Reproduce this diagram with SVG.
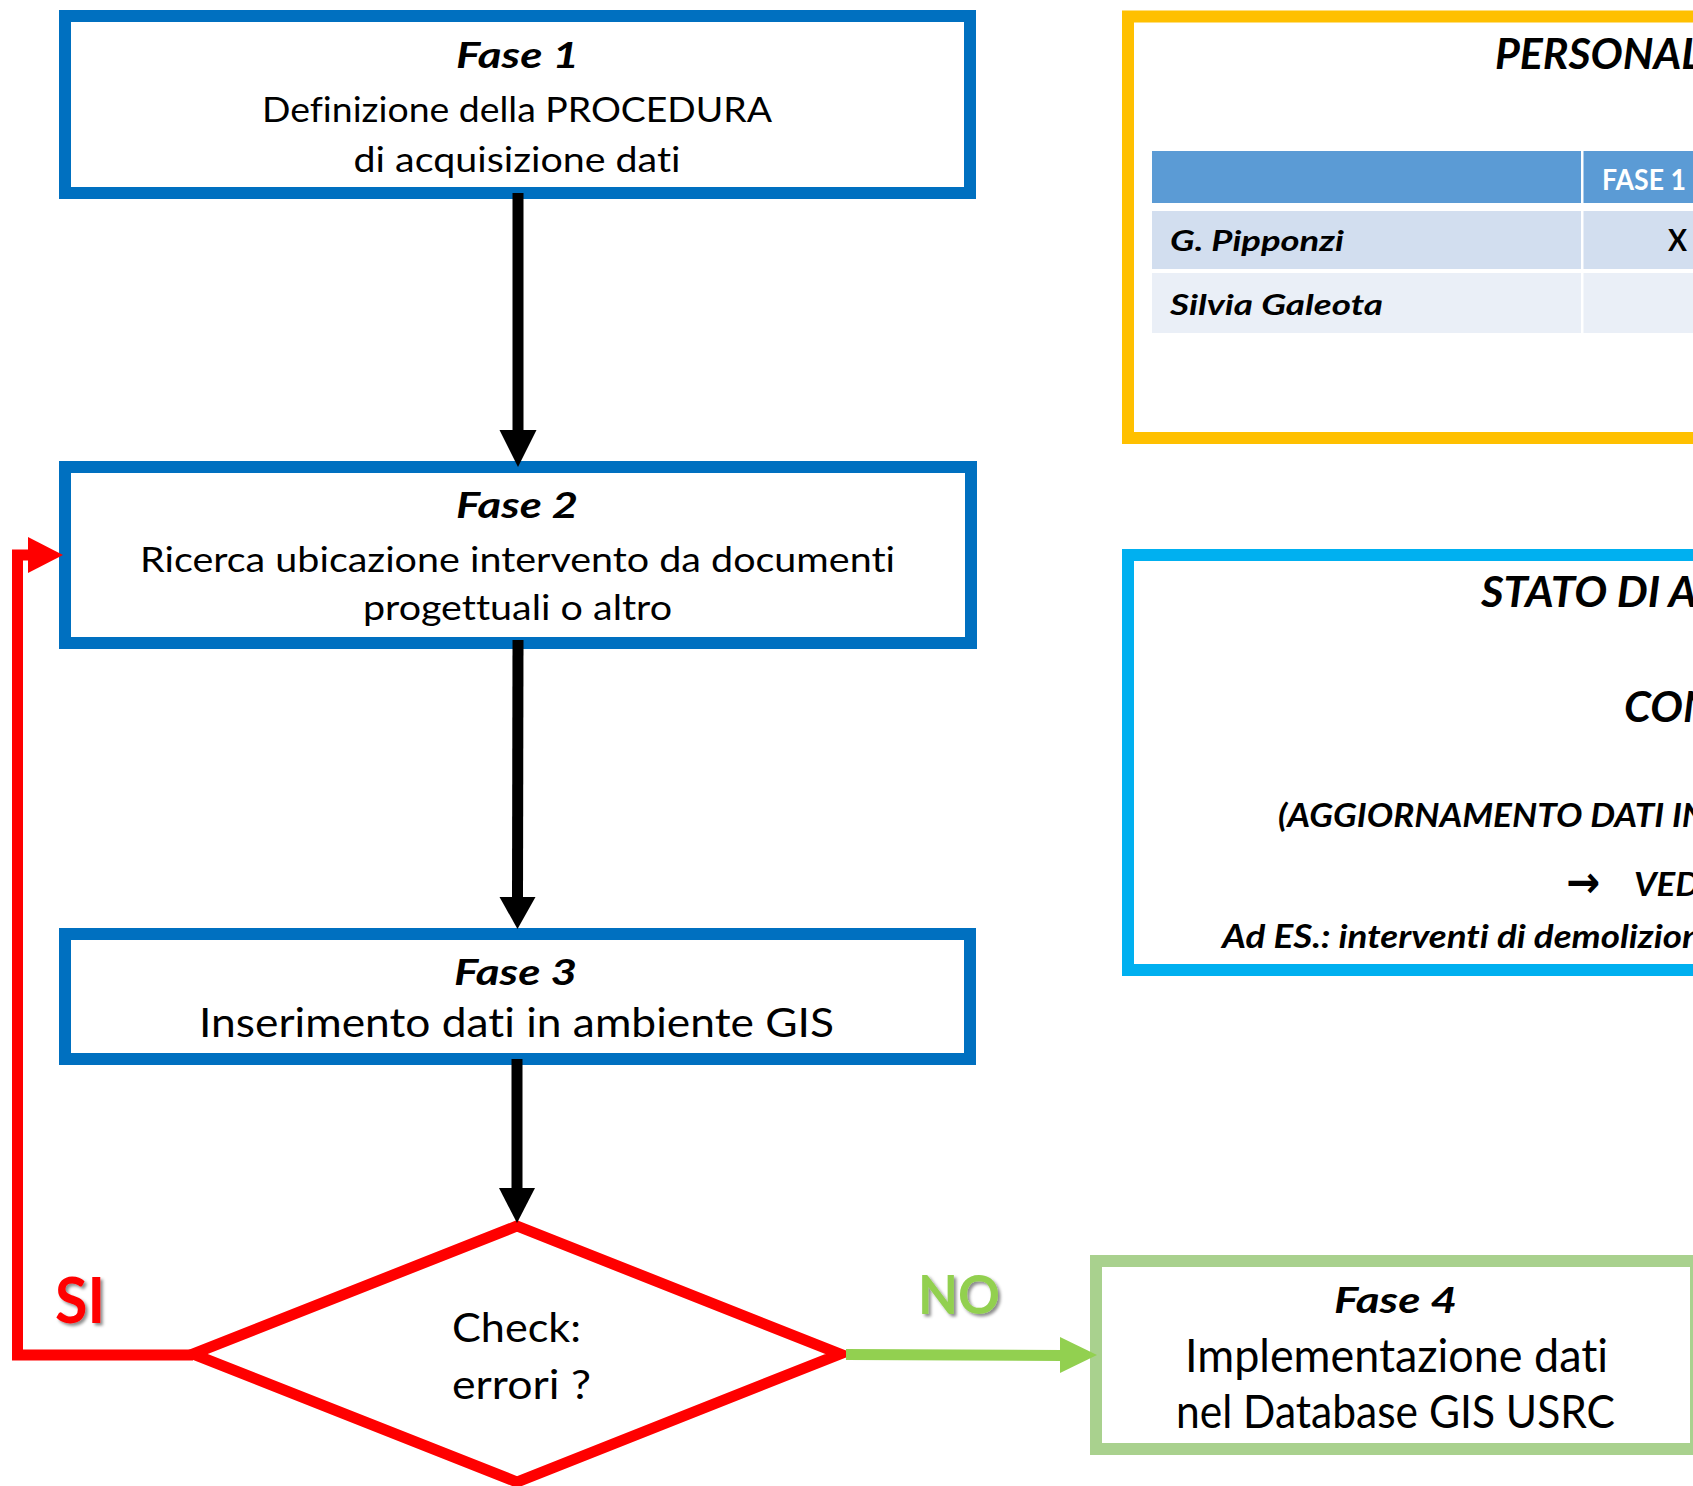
<svg xmlns="http://www.w3.org/2000/svg" width="1693" height="1486" viewBox="0 0 1693 1486">
  <style>
    .t { font-family: Lato, "Liberation Sans", sans-serif; fill: #000; font-variant-ligatures: none; }
    .ttl { font-weight: 700; font-style: italic; font-size: 36px; }
    .body { font-size: 35px; }
    .big { font-size: 41px; }
    .huge { font-size: 46px; }
    .hdr { font-weight: 700; font-style: italic; font-size: 42px; }
    .note { font-weight: 700; font-style: italic; font-size: 33px; }
    .cell { font-weight: 700; font-style: italic; font-size: 29px; }
    .phase { fill: #fff; stroke: #0070C0; stroke-width: 12; }
    .conn { fill: none; stroke-width: 11; stroke-linejoin: miter; }
  </style>
  <defs>
    <filter id="shadow" x="-20%" y="-20%" width="150%" height="150%">
      <feDropShadow dx="2.5" dy="2.5" stdDeviation="1.5" flood-color="#000" flood-opacity="0.45"/>
    </filter>
  </defs>

  <rect x="0" y="0" width="1693" height="1486" fill="#fff"/>

  <!-- Phase 1 -->
  <g id="fase1">
    <rect class="phase" x="65" y="16" width="905" height="177"/>
    <text class="t ttl" x="517.5" y="68" text-anchor="middle" textLength="123" lengthAdjust="spacingAndGlyphs">Fase 1</text>
    <text class="t body" x="517" y="122" text-anchor="middle" textLength="510" lengthAdjust="spacingAndGlyphs">Definizione della PROCEDURA</text>
    <text class="t body" x="517" y="172" text-anchor="middle" textLength="327" lengthAdjust="spacingAndGlyphs">di acquisizione dati</text>
  </g>

  <!-- Phase 2 -->
  <g id="fase2">
    <rect class="phase" x="65" y="467" width="906" height="176"/>
    <text class="t ttl" x="517" y="518" text-anchor="middle" textLength="122" lengthAdjust="spacingAndGlyphs">Fase 2</text>
    <text class="t body" x="517.5" y="572" text-anchor="middle" textLength="755" lengthAdjust="spacingAndGlyphs">Ricerca ubicazione intervento da documenti</text>
    <text class="t body" x="517.5" y="620" text-anchor="middle" textLength="309" lengthAdjust="spacingAndGlyphs">progettuali o altro</text>
  </g>

  <!-- Phase 3 -->
  <g id="fase3">
    <rect class="phase" x="65" y="934" width="905" height="125"/>
    <text class="t ttl" x="515.5" y="985" text-anchor="middle" textLength="123" lengthAdjust="spacingAndGlyphs">Fase 3</text>
    <text class="t big" x="516.5" y="1037" text-anchor="middle" textLength="635" lengthAdjust="spacingAndGlyphs">Inserimento dati in ambiente GIS</text>
  </g>

  <!-- Decision -->
  <g id="check">
    <polygon points="517,1226 840,1354 517,1482 193,1354" fill="#fff" stroke="#FF0000" stroke-width="11" stroke-linejoin="miter"/>
    <text class="t big" x="516.5" y="1342" text-anchor="middle" textLength="129" lengthAdjust="spacingAndGlyphs">Check:</text>
    <text class="t big" x="521.5" y="1399" text-anchor="middle" textLength="139" lengthAdjust="spacingAndGlyphs">errori ?</text>
  </g>

  <!-- Phase 4 -->
  <g id="fase4">
    <rect x="1096" y="1261" width="600" height="188" fill="#fff" stroke="#A9D18E" stroke-width="12"/>
    <text class="t ttl" x="1395.5" y="1313" text-anchor="middle" textLength="123" lengthAdjust="spacingAndGlyphs">Fase 4</text>
    <text class="t huge" x="1396.5" y="1372" text-anchor="middle" textLength="423" lengthAdjust="spacingAndGlyphs">Implementazione dati</text>
    <text class="t huge" x="1395.5" y="1428" text-anchor="middle" textLength="439" lengthAdjust="spacingAndGlyphs">nel Database GIS USRC</text>
  </g>

  <!-- Staff panel -->
  <g id="personale">
    <rect x="1128" y="16.5" width="600" height="421.5" fill="#fff" stroke="#FFC000" stroke-width="12"/>
    <text class="t hdr" x="1495" y="69" textLength="207" lengthAdjust="spacingAndGlyphs">PERSONAL</text>
    <rect x="1152" y="151" width="429" height="52" fill="#5B9BD5"/>
    <rect x="1583.5" y="151" width="120" height="52" fill="#5B9BD5"/>
    <rect x="1152" y="211" width="429" height="58" fill="#D2DEEF"/>
    <rect x="1583.5" y="211" width="120" height="58" fill="#D2DEEF"/>
    <rect x="1152" y="273" width="429" height="60" fill="#EAEFF7"/>
    <rect x="1583.5" y="273" width="120" height="60" fill="#EAEFF7"/>
    <text class="t" x="1602" y="190" font-size="28" font-weight="700" style="fill:#fff" textLength="84" lengthAdjust="spacingAndGlyphs">FASE 1</text>
    <text class="t cell" x="1170" y="251" textLength="174" lengthAdjust="spacingAndGlyphs">G. Pipponzi</text>
    <text class="t" x="1668" y="251" font-size="30" font-weight="700" textLength="19" lengthAdjust="spacingAndGlyphs">X</text>
    <text class="t cell" x="1170" y="315" textLength="213" lengthAdjust="spacingAndGlyphs">Silvia Galeota</text>
  </g>

  <!-- Progress panel -->
  <g id="stato">
    <rect x="1128" y="555" width="600" height="415" fill="#fff" stroke="#00B0F0" stroke-width="12"/>
    <text class="t hdr" x="1481" y="607" textLength="216" lengthAdjust="spacingAndGlyphs">STATO DI A</text>
    <text class="t hdr" x="1624" y="722" textLength="90" lengthAdjust="spacingAndGlyphs">CON</text>
    <text class="t note" x="1278" y="827" textLength="429" lengthAdjust="spacingAndGlyphs">(AGGIORNAMENTO DATI IN</text>
    <text x="1566" y="897" font-family="'DejaVu Sans', sans-serif" font-size="44" font-weight="700" textLength="34" lengthAdjust="spacingAndGlyphs">→</text>
    <text class="t note" x="1634" y="896" textLength="66" lengthAdjust="spacingAndGlyphs">VED</text>
    <text class="t note" x="1222" y="948" textLength="480" lengthAdjust="spacingAndGlyphs">Ad ES.: interventi di demolizion</text>
  </g>

  <!-- Connectors -->
  <g id="connectors">
    <line class="conn" x1="518" y1="193" x2="518" y2="432" stroke="#000"/>
    <polygon points="499.5,430 536.5,430 518,467" fill="#000"/>

    <line class="conn" x1="518" y1="640" x2="517.5" y2="899" stroke="#000"/>
    <polygon points="499.5,897 535.5,897 517.5,929" fill="#000"/>

    <line class="conn" x1="517" y1="1059" x2="517" y2="1190" stroke="#000"/>
    <polygon points="499,1188 535,1188 517,1223" fill="#000"/>

    <polyline class="conn" points="193,1355 17.5,1355 17.5,555 30,555" stroke="#FF0000"/>
    <polygon points="28,537 28,573 63,555" fill="#FF0000"/>

    <line class="conn" x1="846" y1="1354.5" x2="1062" y2="1355.5" stroke="#92D050"/>
    <polygon points="1060,1337 1060,1373 1097,1355" fill="#92D050"/>

    <text x="55" y="1323" font-family="Lato, 'Liberation Sans', sans-serif" font-size="64" font-weight="700" fill="#FF0000" filter="url(#shadow)" textLength="50" lengthAdjust="spacingAndGlyphs">SI</text>
    <text x="918" y="1314" font-family="Lato, 'Liberation Sans', sans-serif" font-size="54" font-weight="700" fill="#92D050" filter="url(#shadow)" textLength="82" lengthAdjust="spacingAndGlyphs">NO</text>
  </g>
</svg>
